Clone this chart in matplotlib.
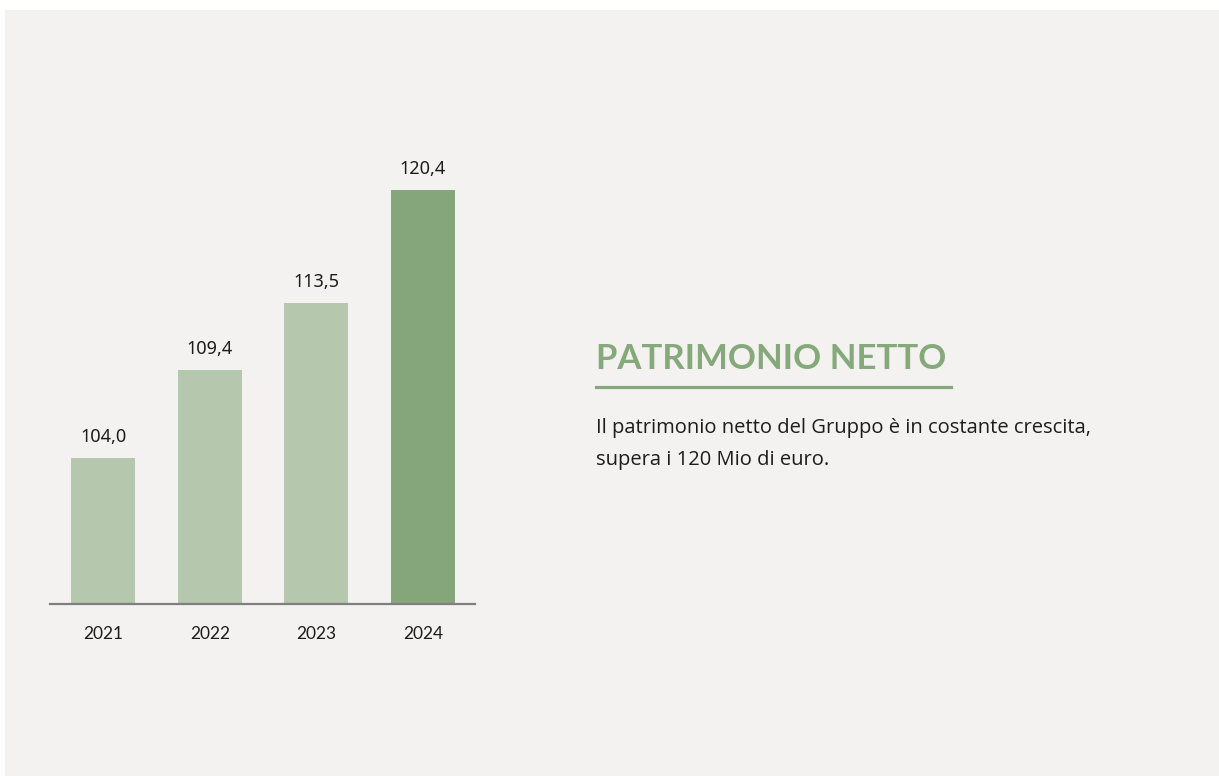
import matplotlib
matplotlib.use("Agg")
import matplotlib.pyplot as plt
from matplotlib.patches import Rectangle
from matplotlib.lines import Line2D

# Data
years = ["2021", "2022", "2023", "2024"]
values = [104.0, 109.4, 113.5, 120.4]
title = "PATRIMONIO NETTO"
body_lines = [
    "Il patrimonio netto del Gruppo è in costante crescita,",
    "supera i 120 Mio di euro.",
]

W, H = 1219, 776
BG = "#f3f2f0"
LIGHT = "#b5c8ad"
DARK = "#84a67a"
ACCENT = "#86a97b"
TEXT = "#1c1c1c"

fig = plt.figure(figsize=(W / 100, H / 100), dpi=100)
fig.patch.set_facecolor("white")
fig.patches.append(Rectangle((5 / W, -0.01), 1.01 - 5 / W, 1.01 - 10 / H,
                             transform=fig.transFigure, facecolor=BG,
                             edgecolor="none", zorder=-10))

# Bar chart panel
ax = fig.add_axes([50 / W, 1 - 604 / H, 425 / W, 454 / H])
ax.set_facecolor("none")
ymin = 95.07
ax.set_ylim(ymin, ymin + 454 / 16.34)
ax.set_xlim(-0.5, 3.49)

x = list(range(len(years)))
colors = [LIGHT] * (len(values) - 1) + [DARK]
ax.bar(x, [v - ymin for v in values], bottom=ymin, width=0.6, color=colors,
       zorder=2)

for i, v in zip(x, values):
    ax.annotate(f"{v:.1f}".replace(".", ","), xy=(i, v), xytext=(0, 16),
                textcoords="offset pixels", ha="center", va="baseline",
                fontsize=13, family="Noto Sans", color=TEXT)

for s in ["top", "right", "left"]:
    ax.spines[s].set_visible(False)
ax.spines["bottom"].set_color("#7f7f7f")
ax.spines["bottom"].set_linewidth(1.6)
ax.set_yticks([])
ax.set_xticks(x)
ax.set_xticklabels(years, family="Lato", fontsize=12.5, color=TEXT)
ax.tick_params(axis="x", length=0, pad=16)

# Text panel on the right
fig.text(596 / W, 1 - 369 / H, title, ha="left", va="baseline",
         fontsize=25, fontweight="bold", family="Lato", color=ACCENT)
fig.add_artist(Line2D([596 / W, 951 / W], [1 - 387 / H, 1 - 387 / H],
                      transform=fig.transFigure, color=ACCENT, lw=2.3))
for k, line in enumerate(body_lines):
    fig.text(596 / W, 1 - (433 + 32 * k) / H, line, ha="left",
             va="baseline", fontsize=14.5, family="Open Sans", color=TEXT)

fig.savefig("out.png", dpi=100, facecolor=fig.get_facecolor())
